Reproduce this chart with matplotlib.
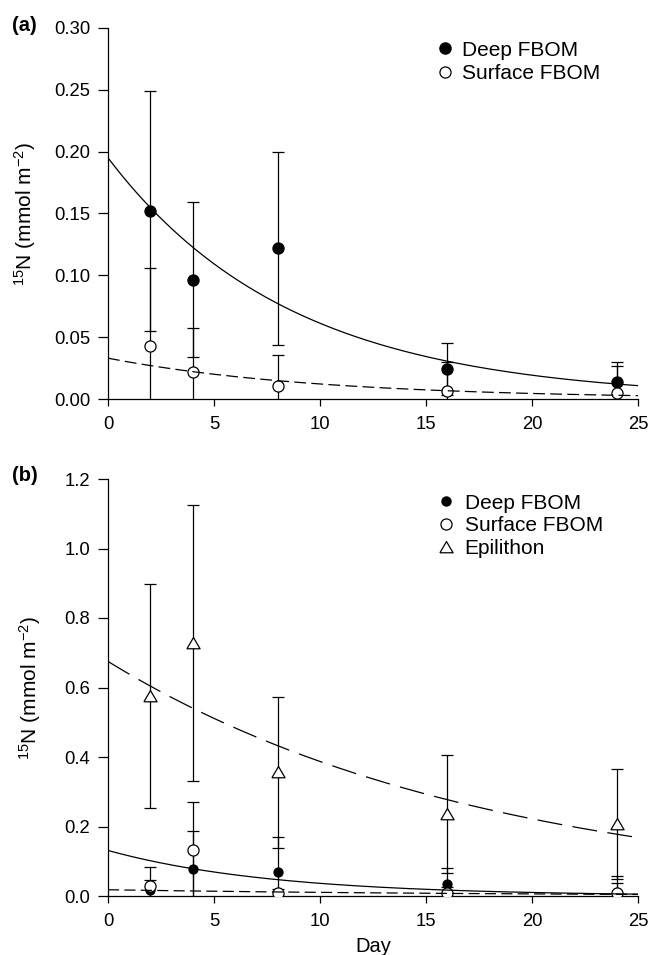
import numpy as np
import matplotlib
matplotlib.use("Agg")
import matplotlib.pyplot as plt
from matplotlib.lines import Line2D

plt.rcParams['font.family'] = ['Liberation Sans', 'DejaVu Sans']
plt.rcParams['mathtext.default'] = 'regular'
plt.rcParams['lines.scale_dashes'] = False

# ---------------- data ----------------
days = [2, 4, 8, 16, 24]

# panel (a)
a_deep = [0.152, 0.0965, 0.122, 0.0243, 0.0135]
a_deep_err = [0.097, 0.0625, 0.078, 0.021, 0.0165]
a_surf = [0.043, 0.0216, 0.0102, 0.0067, 0.0046]
a_surf_err = [0.063, 0.0355, 0.025, 0.023, 0.022]
a_fit_deep = [0.195, 0.1158]   # [N0, k] of N0*exp(-k*t)
a_fit_surf = [0.033, 0.100]

# panel (b)
b_deep = [0.017, 0.077, 0.068, 0.035, 0.008]
b_deep_err = [0.029, 0.110, 0.102, 0.046, 0.050]
b_surf = [0.029, 0.131, 0.0096, 0.010, 0.010]
b_surf_err = [0.054, 0.139, 0.010, 0.015, 0.028]
b_epi = [0.576, 0.728, 0.356, 0.236, 0.207]
b_epi_err = [0.322, 0.398, 0.218, 0.170, 0.159]
b_fit_deep = [0.131, 0.128]
b_fit_surf = [0.018, 0.055]
b_fit_epi = [0.675, 0.0556]

xticks = [0, 5, 10, 15, 20, 25]
a_yticks = [0.00, 0.05, 0.10, 0.15, 0.20, 0.25, 0.30]
b_yticks = [0.0, 0.2, 0.4, 0.6, 0.8, 1.0, 1.2]
labels = ['Deep FBOM', 'Surface FBOM', 'Epilithon']
ylabel = r'$^{15}$N (mmol m$^{-2}$)'
# --------------------------------------

W, H = 652, 955
fig = plt.figure(figsize=(W / 100, H / 100), dpi=100)

def px_axes(left, top, right, bottom):
    return fig.add_axes([left / W, 1 - bottom / H, (right - left) / W, (bottom - top) / H])

axA = px_axes(108, 28, 638, 399)
axB = px_axes(108, 479, 638, 896)

tri = [(-1.0, -0.8), (1.0, -0.8), (0.0, 0.9), (-1.0, -0.8)]
t = np.linspace(0, 25, 300)
capsz = 4.4
lw = 0.9

def style(ax, yticks, fmt, ylab_x):
    ax.set_xlim(0, 25)
    ax.set_ylim(yticks[0], yticks[-1])
    ax.set_xticks(xticks)
    ax.set_yticks(yticks)
    ax.set_yticklabels([fmt % v for v in yticks])
    for s in ['top', 'right']:
        ax.spines[s].set_visible(False)
    for s in ['left', 'bottom']:
        ax.spines[s].set_linewidth(0.9)
    ax.tick_params(axis='y', direction='out', length=7.2, width=0.9, pad=5.5, labelsize=13.3)
    ax.tick_params(axis='x', direction='out', length=5, width=0.9, pad=7.5, labelsize=13.3)
    ax.set_ylabel(ylabel, fontsize=15)
    ax.yaxis.set_label_coords(ylab_x, 0.5)

# ---- panel (a)
ax = axA
ax.errorbar(days, a_deep, yerr=a_deep_err, fmt='none', ecolor='black', elinewidth=lw,
            capsize=capsz, capthick=lw, zorder=2)
ax.errorbar(days, a_surf, yerr=a_surf_err, fmt='none', ecolor='black', elinewidth=lw,
            capsize=capsz, capthick=lw, zorder=2)
ax.plot(days, a_deep, 'o', ms=8, mfc='black', mec='black', mew=0.9, zorder=3)
ax.plot(days, a_surf, 'o', ms=8, mfc='white', mec='black', mew=0.9, zorder=3)
ax.plot(t, a_fit_deep[0] * np.exp(-a_fit_deep[1] * t), '-', color='black', lw=lw, zorder=4)
ax.plot(t, a_fit_surf[0] * np.exp(-a_fit_surf[1] * t), color='black', lw=lw,
        dashes=(8.5, 3.8), zorder=4)
style(ax, a_yticks, '%.2f', (37.5 - 108) / 530)
hA = [Line2D([], [], ls='none', marker='o', ms=8, mfc='black', mec='black'),
      Line2D([], [], ls='none', marker='o', ms=8, mfc='white', mec='black', mew=0.9)]
fs_leg = 15
em = fs_leg / 72 * 100
ax.legend(hA, labels[:2], loc='upper left', frameon=False, fontsize=fs_leg,
          borderpad=0, borderaxespad=0, handlelength=0.8, handletextpad=0.42,
          labelspacing=0.22, bbox_to_anchor=((445 - 0.4 * em) / W, 1 - 40.5 / H),
          bbox_transform=fig.transFigure)

# ---- panel (b)
ax = axB
for vals, errs in [(b_epi, b_epi_err), (b_deep, b_deep_err), (b_surf, b_surf_err)]:
    ax.errorbar(days, vals, yerr=errs, fmt='none', ecolor='black', elinewidth=lw,
                capsize=capsz, capthick=lw, zorder=2)
ax.plot(days, b_deep, 'o', ms=6.5, mfc='black', mec='black', mew=0.9, zorder=3)
ax.plot(days, b_surf, 'o', ms=8, mfc='white', mec='black', mew=0.9, zorder=3)
ax.plot(days, b_epi, ls='none', marker=tri, ms=9.5, mfc='white', mec='black', mew=0.9, zorder=3)
ax.plot(t, b_fit_deep[0] * np.exp(-b_fit_deep[1] * t), '-', color='black', lw=lw, zorder=4)
ax.plot(t, b_fit_surf[0] * np.exp(-b_fit_surf[1] * t), color='black', lw=lw,
        dashes=(8, 3.8), zorder=4)
ax.plot(t, b_fit_epi[0] * np.exp(-b_fit_epi[1] * t), color='black', lw=lw,
        dashes=(18, 7.5), zorder=4)
style(ax, b_yticks, '%.1f', (43 - 108) / 530)
ax.set_xlabel('Day', fontsize=14.5, labelpad=4.5)
hB = [Line2D([], [], ls='none', marker='o', ms=6.5, mfc='black', mec='black'),
      Line2D([], [], ls='none', marker='o', ms=8, mfc='white', mec='black', mew=0.9),
      Line2D([], [], ls='none', marker=tri, ms=9.5, mfc='white', mec='black', mew=0.9)]
ax.legend(hB, labels, loc='upper left', frameon=False, fontsize=fs_leg,
          borderpad=0, borderaxespad=0, handlelength=0.8, handletextpad=0.5,
          labelspacing=0.18, bbox_to_anchor=((446 - 0.4 * em) / W, 1 - 493.5 / H),
          bbox_transform=fig.transFigure)

fig.text(12 / W, 1 - 16 / H, '(a)', fontsize=14.5, fontweight='bold', va='top', ha='left')
fig.text(12 / W, 1 - 466 / H, '(b)', fontsize=14.5, fontweight='bold', va='top', ha='left')

fig.savefig('out.png', dpi=100)
